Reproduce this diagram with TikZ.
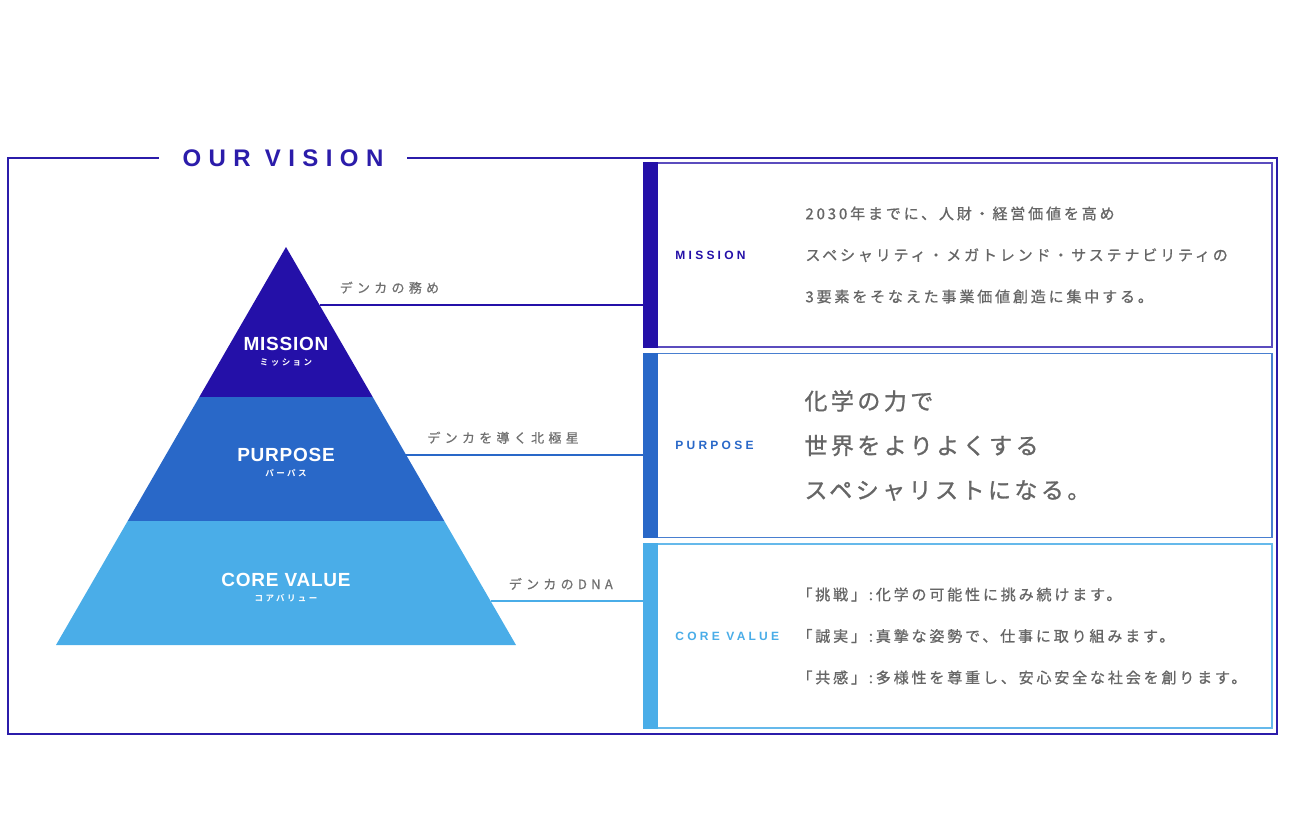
\documentclass[tikz,border=0pt]{standalone}
\usepackage{fontspec}
\usetikzlibrary{positioning}
\setmainfont{Noto Sans CJK JP}
\newfontfamily\jpbody[LetterSpace=19, FakeBold=0.9]{Noto Sans CJK JP}
\newfontfamily\jpcore[LetterSpace=19, FakeBold=0.9]{Noto Sans CJK JP}
\newfontfamily\jpbig[LetterSpace=15, FakeBold=1.1]{Noto Sans CJK JP}
\newfontfamily\jpwide[LetterSpace=33, FakeBold=0.7]{Noto Sans CJK JP}
\newfontfamily\jpkana[LetterSpace=28]{Noto Sans CJK JP Bold}
\newfontfamily\layerfont[LetterSpace=4]{Liberation Sans Bold}
\newfontfamily\headfont[LetterSpace=31]{Liberation Sans Bold}
\newfontfamily\tagfont[LetterSpace=27]{Liberation Sans Bold}

\definecolor{visionblue}{HTML}{2B1CAA}
\definecolor{missioncol}{HTML}{2410A8}
\definecolor{purposecol}{HTML}{2968C8}
\definecolor{corecol}{HTML}{4AADE8}
\definecolor{textgray}{HTML}{666666}
\definecolor{labelgray}{HTML}{707070}

\tikzset{
  infobox/.style={draw, fill=white, line width=1.5pt, minimum width=628pt, minimum height=184pt, inner sep=0pt},
  boxtag/.style={inner sep=0pt, font=\tagfont\fontsize{12}{12}\selectfont},
  boxtext/.style={inner sep=0pt, align=left, text=textgray},
  linklabel/.style={inner sep=0pt, text=labelgray, font=\jpwide\fontsize{13}{13}\selectfont},
  link/.style={line width=1.2pt},
  layerlabel/.style={inner sep=0pt, align=center, text=white}
}

\begin{document}
\begin{tikzpicture}[x=1pt, y=-1pt]
            \useasboundingbox (0,0) rectangle (1290,840);

            %frame
            \draw[visionblue, line width=1.3pt] (8,158) rectangle (1277,734);
            \node[fill=white, inner xsep=24pt, inner ysep=4pt, text=visionblue, font=\headfont\fontsize{24}{24}\selectfont] (title) at (283,158) {OUR VISION};

            %pyramid
            \coordinate (apex) at (286,247);
            \fill[missioncol] (apex) -- (372.7,397) -- (199.3,397) -- cycle;
            \fill[purposecol] (199.3,397) -- (372.7,397) -- (444.3,521) -- (127.7,521) -- cycle;
            \fill[corecol] (127.7,521) -- (444.3,521) -- (516,645) -- (56,645) -- cycle;
            \node[layerlabel] (mislayer) at (286,352) {{\layerfont\fontsize{19}{19}\selectfont MISSION}\\[3pt]{\jpkana\fontsize{8.5}{8.5}\selectfont ミッション}};
            \node[layerlabel] (purlayer) at (286,463) {{\layerfont\fontsize{19}{19}\selectfont PURPOSE}\\[3pt]{\jpkana\fontsize{8.5}{8.5}\selectfont パーパス}};
            \node[layerlabel] (corelayer) at (286,588) {{\layerfont\fontsize{19}{19}\selectfont CORE VALUE}\\[3pt]{\jpkana\fontsize{8.5}{8.5}\selectfont コアバリュー}};

            %boxes
            \node[infobox, draw=missioncol!75] (misbox) at (958,255) {};
            \node[infobox, draw=purposecol!85] (purbox) at (958,445.5) {};
            \node[infobox, draw=corecol!85] (corebox) at (958,636) {};
            \fill[missioncol] (misbox.north west) rectangle ([xshift=15pt]misbox.south west);
            \fill[purposecol] (purbox.north west) rectangle ([xshift=15pt]purbox.south west);
            \fill[corecol] (corebox.north west) rectangle ([xshift=15pt]corebox.south west);

            %box texts
            \node[boxtag, text=missioncol, right=32pt of misbox.west] (mistag) {MISSION};
            \node[boxtag, text=purposecol, right=32pt of purbox.west] (purtag) {PURPOSE};
            \node[boxtag, text=corecol, right=32pt of corebox.west] (coretag) {CORE VALUE};
            \node[boxtext, font=\jpbody\fontsize{15}{41.5}\selectfont, right=162pt of misbox.west] (mistext)
                {2030年までに、人財・経営価値を高め\\スペシャリティ・メガトレンド・サステナビリティの\\3要素をそなえた事業価値創造に集中する。};
            \node[boxtext, font=\jpbig\fontsize{23}{44.5}\selectfont, right=161pt of purbox.west] (purtext)
                {化学の力で\\世界をよりよくする\\スペシャリストになる。};
            \node[boxtext, font=\jpcore\fontsize{15}{41.5}\selectfont, right=154pt of corebox.west] (coretext)
                {「挑戦」:化学の可能性に挑み続けます。\\「誠実」:真摯な姿勢で、仕事に取り組みます。\\「共感」:多様性を尊重し、安心安全な社会を創ります。};

            %links
            \coordinate (misedge) at (319.5,305);
            \coordinate (puredge) at (406.2,455);
            \coordinate (coreedge) at (490.6,601);
            \draw[link, missioncol] (misedge) -- (misedge -| misbox.west);
            \draw[link, purposecol] (puredge) -- (puredge -| purbox.west);
            \draw[link, corecol] (coreedge) -- (coreedge -| corebox.west);
            \node[linklabel, above right=11pt and 20pt of misedge] (mislink) {デンカの務め};
            \node[linklabel, above right=11pt and 21pt of puredge] (purlink) {デンカを導く北極星};
            \node[linklabel, above right=11pt and 18pt of coreedge] (corelink) {デンカのDNA};
        \end{tikzpicture}
\end{document}
